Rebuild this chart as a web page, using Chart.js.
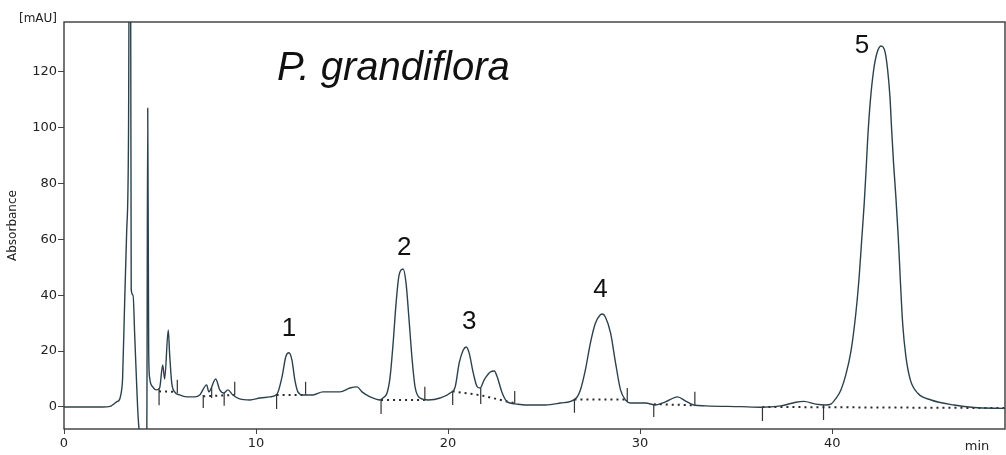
<!DOCTYPE html>
<html>
<head>
<meta charset="utf-8">
<script src="https://cdn.jsdelivr.net/npm/chart.js@4"></script>
<style>
  html, body { margin: 0; padding: 0; background: #ffffff; }
  canvas { display: block; }
</style>
</head>
<body>
<canvas id="chromatogram" width="1006" height="455"></canvas>
<script>
// Detector trace: retention time (min) and absorbance (mAU)
const retentionTime = [
  0.00, 1.00, 2.00, 2.40, 2.62, 2.75, 2.86, 2.92, 3.00, 3.05, 3.16, 3.26, 3.36, 3.44, 3.50, 3.60,
  3.68, 3.78, 3.86, 3.94, 4.12, 4.31, 4.36, 4.41, 4.46, 4.62, 4.83, 4.98, 5.14, 5.24, 5.43, 5.50,
  5.61, 5.76, 6.02, 6.39, 6.81, 7.07, 7.43, 7.54, 7.90, 8.11, 8.32, 8.53, 8.79, 9.15, 9.68, 10.20,
  10.72, 11.09, 11.35, 11.55, 11.71, 11.87, 12.02, 12.18, 12.44, 12.96, 13.48, 14.37, 14.89, 15.26,
  15.52, 15.94, 16.46, 16.61, 16.82, 16.98, 17.14, 17.29, 17.45, 17.66, 17.81, 17.97, 18.13, 18.28,
  18.54, 18.96, 19.59, 20.11, 20.37, 20.58, 20.79, 20.95, 21.10, 21.31, 21.52, 21.67, 21.88, 22.20,
  22.41, 22.56, 22.82, 23.08, 23.50, 24.02, 25.07, 25.85, 26.63, 26.89, 27.15, 27.41, 27.67, 27.93,
  28.04, 28.19, 28.46, 28.72, 28.98, 29.24, 29.50, 30.28, 30.80, 31.32, 31.95, 32.37, 32.79, 33.41,
  35.24, 36.28, 37.33, 38.11, 38.52, 39.15, 39.67, 39.93, 40.19, 40.45, 40.71, 40.98, 41.24, 41.41,
  41.53, 41.67, 41.76, 41.85, 41.98, 42.16, 42.33, 42.54, 42.75, 42.89, 43.01, 43.10, 43.20, 43.32,
  43.44, 43.55, 43.67, 43.84, 44.07, 44.46, 45.15, 46.35, 47.39, 49.00
];
const absorbance = [
  0, 0, 0, 0.2, 1.2, 1.9, 2.3, 3.2, 6, 10, 38, 62, 98, 260, 42, 40,
  26, 8.6, -3.6, -10, -14, -10, 107, 20, 10.4, 7.2, 6.1, 6.8, 15, 10, 27.6, 19,
  8.6, 5.4, 4.3, 3.6, 3.6, 4.3, 7.9, 5.4, 10, 6.1, 5.0, 6.1, 4.3, 2.9, 2.5, 3.2,
  3.6, 4.6, 10.7, 18, 19.4, 16.8, 9.7, 5.4, 4.3, 4.3, 5.4, 5.4, 6.8, 7.2,
  5.4, 3.6, 2.5, 3.2, 5, 10.7, 23, 37, 47.3, 49.4, 44.4, 31, 16.8, 7.2,
  3.2, 2.5, 3.2, 5, 7.2, 15.8, 20.4, 21.5, 19.3, 12.2, 7.2, 6.8, 9.7, 12.5,
  12.9, 10.7, 5, 1.8, 1.1, 0.7, 0.7, 1.4, 2.9, 6.1, 13.3, 22.9, 30, 33,
  33.3, 32.2, 26.5, 15.8, 6.1, 2.5, 1.4, 1.4, 0.7, 1.8, 3.6, 2.1, 0.7, 0.4,
  0.1, -0.1, 0.4, 1.7, 2.0, 1.0, 0.7, 1.0, 3.0, 6.0, 11.5, 20, 34, 47,
  59, 73, 84, 96, 109, 120.7, 126.7, 129.3, 127.3, 120.7, 111, 99, 87, 75,
  61, 45.5, 30, 18, 9.7, 4.9, 2.5, 0.7, -0.2, -0.5
];

// Integration baselines (null separates the segments)
const baselineTimes  = [4.95, 5.90, null, 7.25, 8.89, null, 11.07, 12.58, null, 16.51, 18.79, null,
                        20.24, 21.70, 23.47, null, 26.58, 29.33, null, 30.71, 32.85, null, 36.37, 39.55, 49.00];
const baselineLevels = [5.6, 5.4, null, 3.8, 4.3, null, 4.3, 4.3, null, 2.5, 2.5, null,
                        5.6, 4.2, 1.3, null, 2.7, 2.7, null, 1.0, 0.6, null, 0.0, -0.1, -0.4];

// Peak start / end markers
const markerTimes = [4.95, 5.90, 7.25, 7.69, 8.34, 8.89, 11.07, 12.58, 16.51, 18.79, 20.24, 21.70,
                     23.47, 26.58, 29.33, 30.71, 32.85, 36.37, 39.55];
const markerFrom  = [6.8, 5.0, 4.3, 7.0, 5.0, 4.3, 4.6, 4.3, 2.5, 2.5, 5.4, 6.8,
                     1.3, 2.5, 2.0, 1.0, 0.6, 0.0, 0.7];
const markerTo    = [0.6, 9.7, -0.4, 3.2, 0.4, 9.0, -0.7, 9.0, -2.5, 7.2, 0.7, 1.1,
                     5.7, -2.1, 6.8, -3.6, 5.4, -5.0, -4.7];

// Numbered peaks (apex time and height)
const peakIds     = ['1', '2', '3', '4', '5'];
const peakTimes   = [11.71, 17.66, 20.95, 28.04, 42.54];
const peakHeights = [19.4, 49.4, 21.5, 33.3, 129.3];

const xTicks = [0, 10, 20, 30, 40];
const yTicks = [0, 20, 40, 60, 80, 100, 120];

const traceData = retentionTime.map((t, i) => ({ x: t, y: absorbance[i] }));

const baselineData = [];
baselineTimes.forEach((t, i) => {
  if (t === null) {
    baselineData.push({ x: baselineTimes[i - 1], y: null });
  } else {
    baselineData.push({ x: t, y: baselineLevels[i] });
  }
});

const markerData = [];
markerTimes.forEach((t, i) => {
  markerData.push({ x: t, y: markerFrom[i] });
  markerData.push({ x: t, y: markerTo[i] });
  markerData.push({ x: t, y: null });
});

const axisFont = { family: 'DejaVu Sans', size: 13 };
const textColor = '#222222';

// Plot frame, sample name, peak numbers and unit labels
const decorations = {
  id: 'decorations',
  afterDatasetsDraw(chart) {
    const { ctx, chartArea: a, scales } = chart;
    ctx.save();
    ctx.strokeStyle = '#3a3a3a';
    ctx.lineWidth = 1.4;
    ctx.strokeRect(a.left, a.top, a.right - a.left, a.bottom - a.top);

    ctx.fillStyle = '#111111';
    ctx.font = 'italic 40px "Liberation Sans"';
    ctx.textAlign = 'left';
    ctx.textBaseline = 'alphabetic';
    ctx.fillText('P. grandiflora', 277, 80);

    const shift = [[0, -17], [1, -14], [3, -18], [-2, -17], [-19, 7]];
    ctx.font = '26px "Liberation Sans"';
    ctx.textAlign = 'center';
    peakIds.forEach((id, i) => {
      const px = scales.x.getPixelForValue(peakTimes[i]) + shift[i][0];
      const py = scales.y.getPixelForValue(peakHeights[i]) + shift[i][1];
      ctx.fillText(id, px, py);
    });

    ctx.fillStyle = textColor;
    ctx.font = '12px "DejaVu Sans"';
    ctx.textAlign = 'right';
    ctx.fillText('[mAU]', 57, 22);
    ctx.font = '13px "DejaVu Sans"';
    ctx.textAlign = 'center';
    ctx.fillText('min', 977, 450);
    ctx.restore();
  }
};

new Chart(document.getElementById('chromatogram'), {
  type: 'line',
  data: {
    datasets: [
      {
        data: traceData,
        borderColor: '#2b424d',
        borderWidth: 1.4,
        pointRadius: 0,
        cubicInterpolationMode: 'monotone',
        fill: false
      },
      {
        data: baselineData,
        borderColor: '#2a2a2a',
        borderWidth: 2,
        borderDash: [2, 4],
        pointRadius: 0,
        spanGaps: false,
        fill: false
      },
      {
        data: markerData,
        borderColor: '#333333',
        borderWidth: 1.2,
        pointRadius: 0,
        spanGaps: false,
        fill: false
      }
    ]
  },
  options: {
    responsive: false,
    animation: false,
    events: [],
    layout: { padding: { top: 22, right: 1, left: 0, bottom: 0 } },
    plugins: { legend: { display: false }, tooltip: { enabled: false } },
    scales: {
      x: {
        type: 'linear',
        min: 0,
        max: 49,
        afterBuildTicks: s => { s.ticks = xTicks.map(v => ({ value: v })); },
        afterFit: s => { s.height = 26; },
        grid: { drawOnChartArea: false, drawTicks: true, tickLength: 5, color: '#444444' },
        border: { display: false },
        ticks: { color: textColor, font: axisFont, padding: 2, maxRotation: 0, autoSkip: false }
      },
      y: {
        type: 'linear',
        min: -7.9,
        max: 137.9,
        afterBuildTicks: s => { s.ticks = yTicks.map(v => ({ value: v })); },
        afterFit: s => { s.width = 64; },
        grid: { drawOnChartArea: false, drawTicks: true, tickLength: 6, color: '#444444' },
        border: { display: false },
        ticks: { color: textColor, font: axisFont, padding: 1 },
        title: {
          display: true,
          text: 'Absorbance',
          color: textColor,
          font: { family: 'DejaVu Sans', size: 12 },
          padding: { top: 6, bottom: 0 }
        }
      }
    }
  },
  plugins: [decorations]
});
</script>
</body>
</html>
